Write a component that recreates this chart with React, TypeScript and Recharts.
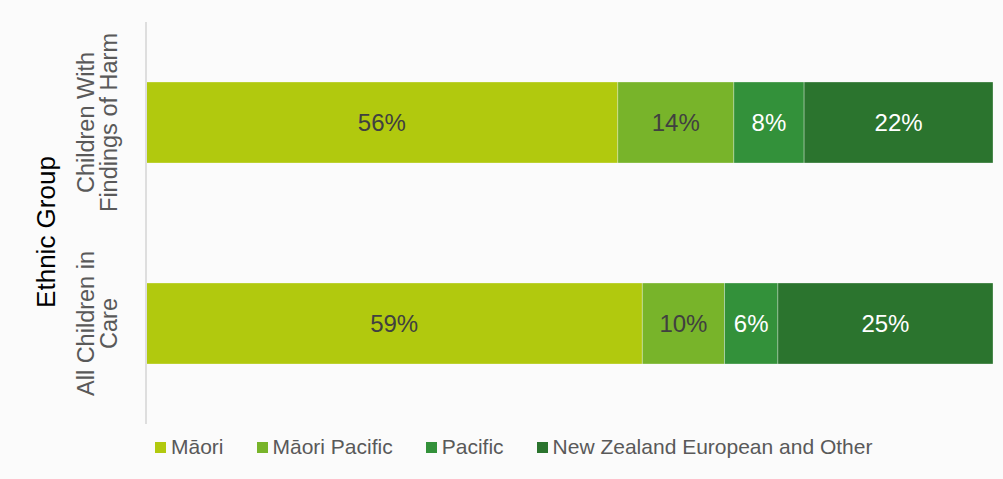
import { BarChart, Bar, XAxis, YAxis, Legend, LabelList } from 'recharts';

const categories = ['Children With Findings of Harm', 'All Children in Care'];
const tickLines = [
  ['Children With', 'Findings of Harm'],
  ['All Children in', 'Care'],
];

const maori = [55.7, 58.6];
const maoriPacific = [13.7, 9.7];
const pacific = [8.3, 6.3];
const nzEuropeanOther = [22.3, 25.4];

const seriesKeys = ['maori', 'maoriPacific', 'pacific', 'nzEuropeanOther'];
const seriesNames = ['Māori', 'Māori Pacific', 'Pacific', 'New Zealand European and Other'];
const seriesColors = ['#b1c90e', '#78b42a', '#33913a', '#2b742e'];
const labelColors = ['#404040', '#404040', '#ffffff', '#ffffff'];

const data = categories.map((category, i) => ({
  category,
  maori: maori[i],
  maoriPacific: maoriPacific[i],
  pacific: pacific[i],
  nzEuropeanOther: nzEuropeanOther[i],
}));

const font = 'Arial, "Liberation Sans", sans-serif';

function CategoryTick(props: any) {
  const { y, payload } = props;
  const lines = tickLines[payload.index] ?? [payload.value];
  const baselines = [94, 117];
  return (
    <g>
      {lines.map((line, i) => (
        <text
          key={i}
          x={baselines[i]}
          y={y}
          transform={`rotate(-90, ${baselines[i]}, ${y})`}
          textAnchor="middle"
          fill="#595959"
          fontSize={23.5}
          fontFamily={font}
        >
          {line}
        </text>
      ))}
    </g>
  );
}

function AxisTitle(props: any) {
  const { value } = props;
  return (
    <text
      x={55}
      y={232}
      transform="rotate(-90, 55, 232)"
      textAnchor="middle"
      fill="#000000"
      fontSize={26}
      fontFamily={font}
    >
      {value}
    </text>
  );
}

function LegendContent() {
  return (
    <div style={{ display: 'flex', alignItems: 'center', fontFamily: font, fontSize: 21, color: '#595959', whiteSpace: 'nowrap' }}>
      {seriesNames.map((name, i) => (
        <div key={name} style={{ display: 'flex', alignItems: 'center', marginRight: 33 }}>
          <span style={{ display: 'inline-block', width: 11, height: 11, background: seriesColors[i], marginRight: 5 }} />
          <span>{name}</span>
        </div>
      ))}
    </div>
  );
}

export default function App() {
  return (
    <div style={{ position: 'absolute', left: 0, top: 0, width: 1003, height: 479, background: '#fbfbfb' }}>
      <BarChart
        width={1003}
        height={479}
        data={data}
        layout="vertical"
        barCategoryGap={60}
        margin={{ top: 22, right: 10, left: 0, bottom: 55 }}
      >
        <XAxis type="number" domain={[0, 100]} hide />
        <YAxis
          type="category"
          dataKey="category"
          width={146}
          axisLine={{ stroke: '#dedede', strokeWidth: 2 }}
          tickLine={false}
          tick={<CategoryTick />}
          label={{ value: 'Ethnic Group', content: <AxisTitle /> }}
        />
        <Legend
          layout="horizontal"
          verticalAlign="middle"
          align="center"
          content={<LegendContent />}
          wrapperStyle={{ top: 435, left: 155, width: 'auto' }}
        />
        {seriesKeys.map((key, i) => (
          <Bar
            key={key}
            dataKey={key}
            name={seriesNames[i]}
            stackId="a"
            fill={seriesColors[i]}
            stroke="rgba(255,255,255,0.3)"
            strokeWidth={1}
            isAnimationActive={false}
          >
            <LabelList
              dataKey={key}
              position="center"
              formatter={(v: any) => `${Math.round(Number(v))}%`}
              fill={labelColors[i]}
              fontSize={24}
              fontFamily={font}
            />
          </Bar>
        ))}
      </BarChart>
    </div>
  );
}
